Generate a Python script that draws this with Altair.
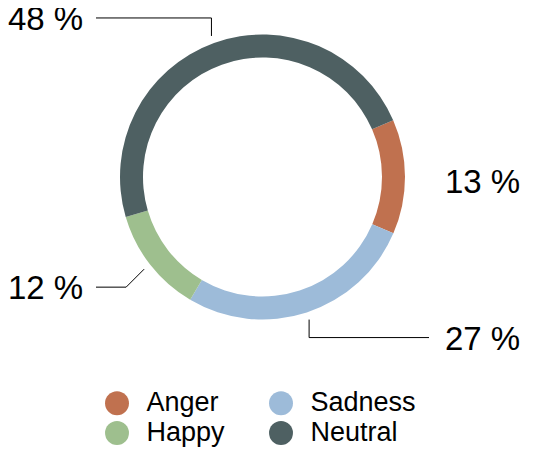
import math
import altair as alt
import pandas as pd

# ---- data ----
categories = ["Anger", "Sadness", "Happy", "Neutral"]
values = [13, 27, 12, 48]
colors = ["#c0714f", "#9dbbd9", "#9ebf8e", "#4e6062"]
legend_order = ["Anger", "Happy", "Sadness", "Neutral"]

# ---- layout (page pixels) ----
W, H = 518, 446
OFF = 8
START_DEG = 66.5
CX, CY = 262.5, 177.0
R_IN, R_OUT = 119.5, 142.5
R_LEAD = 150
LEAD = 18
LEFT_X, RIGHT_X = 8, 445
LEFT_LINE_END, RIGHT_LINE_END = 96, 429
FONT = "Liberation Sans"

label_layout = {
    "Anger": {"side": "right", "leader": None},
    "Sadness": {"side": "right", "leader": "down"},
    "Happy": {"side": "left", "leader": "diag"},
    "Neutral": {"side": "left", "leader": "up"},
}

total = sum(values)
start = math.radians(START_DEG)
color_of = dict(zip(categories, colors))

arc_df = pd.DataFrame({"cat": categories, "val": values, "idx": list(range(len(values)))})

line_rows, text_rows = [], []
cum = 0.0
for cat, v in zip(categories, values):
    mid = start + 2 * math.pi * (cum + v / 2) / total
    cum += v
    ax = CX + R_LEAD * math.sin(mid)
    ay = CY - R_LEAD * math.cos(mid)
    lay = label_layout[cat]
    tx = LEFT_X if lay["side"] == "left" else RIGHT_X
    lend = LEFT_LINE_END if lay["side"] == "left" else RIGHT_LINE_END
    kind = lay["leader"]
    if kind is None:
        ty = ay + 6
    else:
        if kind == "up":
            ex, ey = ax, ay - LEAD
        elif kind == "down":
            ex, ey = ax, ay + LEAD
        else:
            ex, ey = ax - LEAD, ay + LEAD
        for i, (px, py) in enumerate([(ax, ay), (ex, ey), (lend, ey)]):
            line_rows.append({"cat": cat, "o": i, "x": px, "y": py})
        ty = ey + 2
    text_rows.append({"cat": cat, "x": tx, "y": ty, "label": f"{v} %"})

line_df = pd.DataFrame(line_rows)
text_df = pd.DataFrame(text_rows)

xs = alt.Scale(domain=[OFF, OFF + W], nice=False, zero=False)
ys = alt.Scale(domain=[OFF, OFF + H], nice=False, zero=False, reverse=True)

arc = alt.Chart(arc_df).mark_arc(
    innerRadius=R_IN, outerRadius=R_OUT, x=CX - OFF, y=CY - OFF
).encode(
    theta=alt.Theta("val:Q", stack=True,
                    scale=alt.Scale(range=[start, start + 2 * math.pi])),
    order=alt.Order("idx:Q"),
    color=alt.Color(
        "cat:N",
        scale=alt.Scale(domain=legend_order, range=[color_of[c] for c in legend_order]),
        legend=alt.Legend(
            orient="none", legendX=95.5, legendY=381.5, columns=2, title=None,
            symbolType="circle", symbolSize=572, symbolStrokeWidth=0,
            labelFont=FONT, labelFontSize=27, labelColor="#000000",
            labelOffset=16, columnPadding=42, rowPadding=2,
        ),
    ),
)

lines = alt.Chart(line_df).mark_line(color="#000000", strokeWidth=1).encode(
    x=alt.X("x:Q", scale=xs, axis=None),
    y=alt.Y("y:Q", scale=ys, axis=None),
    detail="cat:N",
    order="o:Q",
)

texts = alt.Chart(text_df).mark_text(
    font=FONT, fontSize=33, align="left", baseline="middle", color="#000000"
).encode(
    x=alt.X("x:Q", scale=xs, axis=None),
    y=alt.Y("y:Q", scale=ys, axis=None),
    text="label:N",
)

chart = alt.layer(arc, lines, texts).properties(
    width=W, height=H, padding=0, background="white",
    autosize=alt.AutoSizeParams(type="none"),
).configure_view(stroke=None)

chart.save("out.html", embed_options={"renderer": "svg", "actions": False})
